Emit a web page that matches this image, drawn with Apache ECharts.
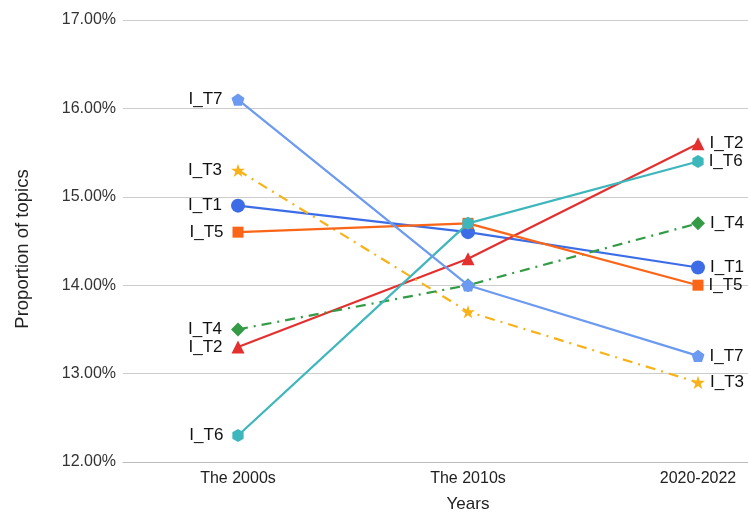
<!DOCTYPE html>
<html>
<head>
<meta charset="utf-8">
<script src="https://cdn.jsdelivr.net/npm/echarts@6/dist/echarts.min.js"></script>
<style>
  html, body { margin: 0; padding: 0; background: #fff; overflow: hidden; width: 748px; height: 518px; }
  /* the plot area runs past the right edge of the page */
  #chart { width: 818px; height: 518px; }
</style>
</head>
<body>
<div id="chart"></div>
<script>
// Topic proportions (%) per period
const periods = ['The 2000s', 'The 2010s', '2020-2022'];
const topicNames = ['I_T1', 'I_T2', 'I_T3', 'I_T4', 'I_T5', 'I_T6', 'I_T7'];
const t1 = [14.9, 14.6, 14.2];
const t2 = [13.3, 14.3, 15.6];
const t3 = [15.3, 13.7, 12.9];
const t4 = [13.5, 14.0, 14.7];
const t5 = [14.6, 14.7, 14.0];
const t6 = [12.3, 14.7, 15.4];
const t7 = [16.1, 14.0, 13.2];
const yTicks = [12, 13, 14, 15, 16, 17];

const topicValues = [t1, t2, t3, t4, t5, t6, t7];

const STAR = 'path://M50,0 L61.2,34.5 L97.6,34.5 L68.2,55.9 L79.4,90.5 L50,69.1 L20.6,90.5 L31.8,55.9 L2.4,34.5 L38.8,34.5 Z';
const HEX = 'path://M50,0 L93.3,25 L93.3,75 L50,100 L6.7,75 L6.7,25 Z';
const PENT = 'path://M50,0 L97.6,34.5 L79.4,90.5 L20.6,90.5 L2.4,34.5 Z';

const FONT = 'Liberation Sans, Arial, sans-serif';

const styles = [
  { color: '#3d6de6', symbol: 'circle', size: 14, dash: 'solid' },
  { color: '#e3302f', symbol: 'triangle', size: 13, dash: 'solid' },
  { color: '#f8b218', symbol: STAR, size: 14, dash: [10, 6, 2, 6] },
  { color: '#339a45', symbol: 'diamond', size: 14, dash: [10, 6, 2, 6] },
  { color: '#fa6517', symbol: 'rect', size: 11, dash: 'solid' },
  { color: '#3db6bc', symbol: HEX, size: 13, dash: 'solid' },
  { color: '#6b9af0', symbol: PENT, size: 13, dash: 'solid' }
];

const labelText = { color: '#111', fontSize: 17, fontFamily: FONT };

// later topics are drawn on top of earlier ones
const series = topicNames.map((name, i) => {
  const vals = topicValues[i];
  const st = styles[i];
  return {
    name: name,
    type: 'line',
    data: vals.map((v, j) => {
      if (j === 0) return { value: v, label: Object.assign({ show: true, position: 'left', distance: 9, formatter: name }, labelText) };
      if (j === vals.length - 1) return { value: v, label: Object.assign({ show: true, position: 'right', distance: 5, formatter: name }, labelText) };
      return { value: v };
    }),
    symbol: st.symbol,
    symbolSize: st.size,
    symbolKeepAspect: true,
    showAllSymbol: true,
    itemStyle: { color: st.color },
    lineStyle: { color: st.color, width: 2.2, type: st.dash },
    emphasis: { disabled: true },
    z: 2 + i
  };
});

const chart = echarts.init(document.getElementById('chart'), null, { renderer: 'canvas' });
chart.setOption({
  animation: false,
  backgroundColor: '#fff',
  grid: { left: 123, right: 5, top: 20, bottom: 51, containLabel: false },
  xAxis: {
    type: 'category',
    data: periods,
    boundaryGap: true,
    name: 'Years',
    nameLocation: 'middle',
    nameGap: 34,
    nameTextStyle: { color: '#222', fontSize: 17, fontFamily: FONT },
    axisLine: { show: true, lineStyle: { color: '#bbb' } },
    axisTick: { show: false },
    axisLabel: { color: '#222', fontSize: 16, margin: 9, fontFamily: FONT }
  },
  yAxis: {
    type: 'value',
    min: yTicks[0],
    max: yTicks[yTicks.length - 1],
    interval: 1,
    name: 'Proportion of topics',
    nameLocation: 'middle',
    nameGap: 91,
    nameRotate: 90,
    nameTextStyle: { color: '#222', fontSize: 18.5, fontFamily: FONT, padding: [0, 16, 0, 0] },
    axisLine: { show: false },
    axisTick: { show: false },
    axisLabel: {
      color: '#333', fontSize: 16, margin: 7,
      fontFamily: FONT,
      formatter: v => v.toFixed(2) + '%'
    },
    splitLine: { show: true, lineStyle: { color: '#ccc', width: 1 } }
  },
  series: series
});
</script>
</body>
</html>
